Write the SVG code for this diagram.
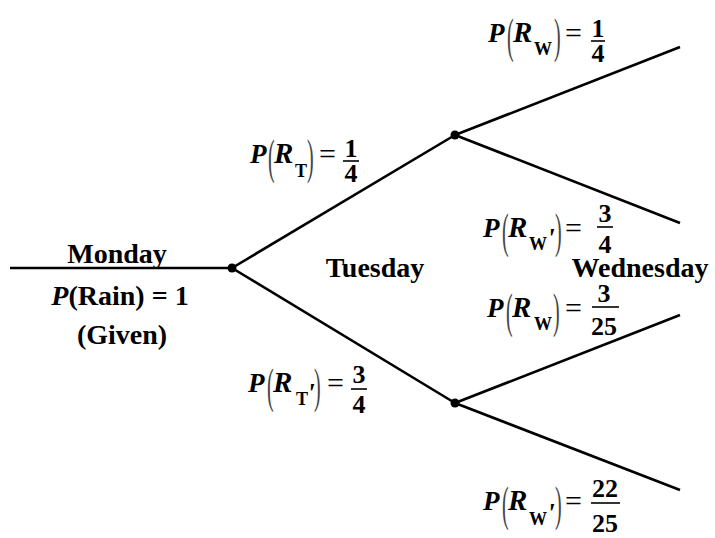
<svg xmlns="http://www.w3.org/2000/svg" width="715" height="538" viewBox="0 0 715 538">
<style>
.t{font-family:"Liberation Serif","Times New Roman",serif;font-weight:bold;fill:#000;font-size:28px}
.p{font-family:"Liberation Serif","Times New Roman",serif;font-weight:bold;font-style:italic;font-size:27px;fill:#000}
.s{font-family:"Liberation Serif","Times New Roman",serif;font-weight:bold;font-size:18px;fill:#000}
.q{font-family:"Liberation Serif","Times New Roman",serif;font-weight:bold;font-style:italic;font-size:29px;fill:#000}
.m{font-family:"Liberation Serif","Times New Roman",serif;font-weight:bold;font-style:italic;font-size:28px;fill:#000}
.b{font-family:"Liberation Serif","Times New Roman",serif;font-weight:normal;font-size:20px;fill:#444}
.e{font-family:"Liberation Serif","Times New Roman",serif;font-weight:normal;font-size:30px;fill:#000}
.d{font-family:"Liberation Serif","Times New Roman",serif;font-weight:bold;font-size:26px;fill:#000;text-anchor:middle}
.ln{stroke:#000;stroke-width:2.6;fill:none;stroke-linecap:butt}
.bar{stroke:#000;stroke-width:1.6}
</style>
<rect width="715" height="538" fill="#fff"/>
<g id="connectors">
<line class="ln" x1="10" y1="268" x2="232" y2="268"/>
<line class="ln" x1="232" y1="268" x2="455" y2="135"/>
<line class="ln" x1="232" y1="268" x2="455" y2="403"/>
<line class="ln" x1="455" y1="135" x2="680" y2="47"/>
<line class="ln" x1="455" y1="135" x2="680" y2="223"/>
<line class="ln" x1="455" y1="403" x2="680" y2="315"/>
<line class="ln" x1="455" y1="403" x2="680" y2="490"/>
</g>
<g id="node-monday">
<circle cx="232" cy="268" r="4.5" fill="#000"/>
<text class="t" x="117" y="263" text-anchor="middle">Monday</text>
<text class="t" x="120" y="305" text-anchor="middle"><tspan font-style="italic">P</tspan>(Rain) = 1</text>
<text class="t" x="122" y="344" text-anchor="middle">(Given)</text>
</g>
<g id="node-tuesday-rain">
<circle cx="455" cy="135" r="4.5" fill="#000"/>
</g>
<g id="node-tuesday-norain">
<circle cx="455" cy="403" r="4.5" fill="#000"/>
</g>
<g id="label-tuesday">
<text class="t" x="375" y="277" text-anchor="middle">Tuesday</text>
</g>
<g id="label-wednesday">
<text class="t" x="640" y="277" text-anchor="middle">Wednesday</text>
</g>
<g id="prob-rt" transform="translate(250,163)">
<text class="p" x="0" y="0">P</text>
<text class="b" transform="translate(18,10) scale(1,2.45)">(</text>
<text class="q" x="24" y="0">R</text>
<text class="s" x="45" y="14">T</text>
<text class="b" transform="translate(57,10) scale(1,2.45)">)</text>
<text class="e" x="69" y="1">=</text>
<text class="d" x="101" y="-6">1</text>
<line class="bar" x1="93" y1="-2" x2="109" y2="-2"/>
<text class="d" x="101" y="19">4</text>
</g>
<g id="prob-rt-not" transform="translate(248,392)">
<text class="p" x="0" y="0">P</text>
<text class="b" transform="translate(19,10) scale(1,2.45)">(</text>
<text class="q" x="25" y="0">R</text>
<text class="s" x="48" y="13">T</text>
<text class="m" x="59" y="10">'</text>
<text class="b" transform="translate(66,10) scale(1,2.45)">)</text>
<text class="e" x="79" y="1">=</text>
<text class="d" x="111" y="-9">3</text>
<line class="bar" x1="103" y1="-3" x2="119" y2="-3"/>
<text class="d" x="111" y="21">4</text>
</g>
<g id="prob-rw-1" transform="translate(488,42)">
<text class="p" x="0" y="0">P</text>
<text class="b" transform="translate(19,10) scale(1,2.45)">(</text>
<text class="q" x="25" y="0">R</text>
<text class="s" x="46" y="13">W</text>
<text class="b" transform="translate(66,10) scale(1,2.45)">)</text>
<text class="e" x="77" y="1">=</text>
<text class="d" x="110" y="-5">1</text>
<line class="bar" x1="103" y1="-1" x2="117" y2="-1"/>
<text class="d" x="110" y="20">4</text>
</g>
<g id="prob-rw-not-1" transform="translate(483,237)">
<text class="p" x="0" y="0">P</text>
<text class="b" transform="translate(19,10) scale(1,2.45)">(</text>
<text class="q" x="25" y="0">R</text>
<text class="s" x="46" y="13">W</text>
<text class="m" x="64" y="10">'</text>
<text class="b" transform="translate(72,10) scale(1,2.45)">)</text>
<text class="e" x="82" y="1">=</text>
<text class="d" x="122" y="-15">3</text>
<line class="bar" x1="114" y1="-10" x2="130" y2="-10"/>
<text class="d" x="122" y="16">4</text>
</g>
<g id="prob-rw-2" transform="translate(487,317)">
<text class="p" x="0" y="0">P</text>
<text class="b" transform="translate(19,10) scale(1,2.45)">(</text>
<text class="q" x="25" y="0">R</text>
<text class="s" x="47" y="13">W</text>
<text class="b" transform="translate(66,10) scale(1,2.45)">)</text>
<text class="e" x="78" y="1">=</text>
<text class="d" x="117" y="-15">3</text>
<line class="bar" x1="105" y1="-10" x2="132" y2="-10"/>
<text class="d" x="117" y="18">25</text>
</g>
<g id="prob-rw-not-2" transform="translate(483,510)">
<text class="p" x="0" y="0">P</text>
<text class="b" transform="translate(19,10) scale(1,2.45)">(</text>
<text class="q" x="25" y="0">R</text>
<text class="s" x="46" y="15">W</text>
<text class="m" x="64" y="12">'</text>
<text class="b" transform="translate(72,10) scale(1,2.45)">)</text>
<text class="e" x="82" y="1">=</text>
<text class="d" x="122" y="-13">22</text>
<line class="bar" x1="108" y1="-7" x2="137" y2="-7"/>
<text class="d" x="122" y="22">25</text>
</g>
</svg>
